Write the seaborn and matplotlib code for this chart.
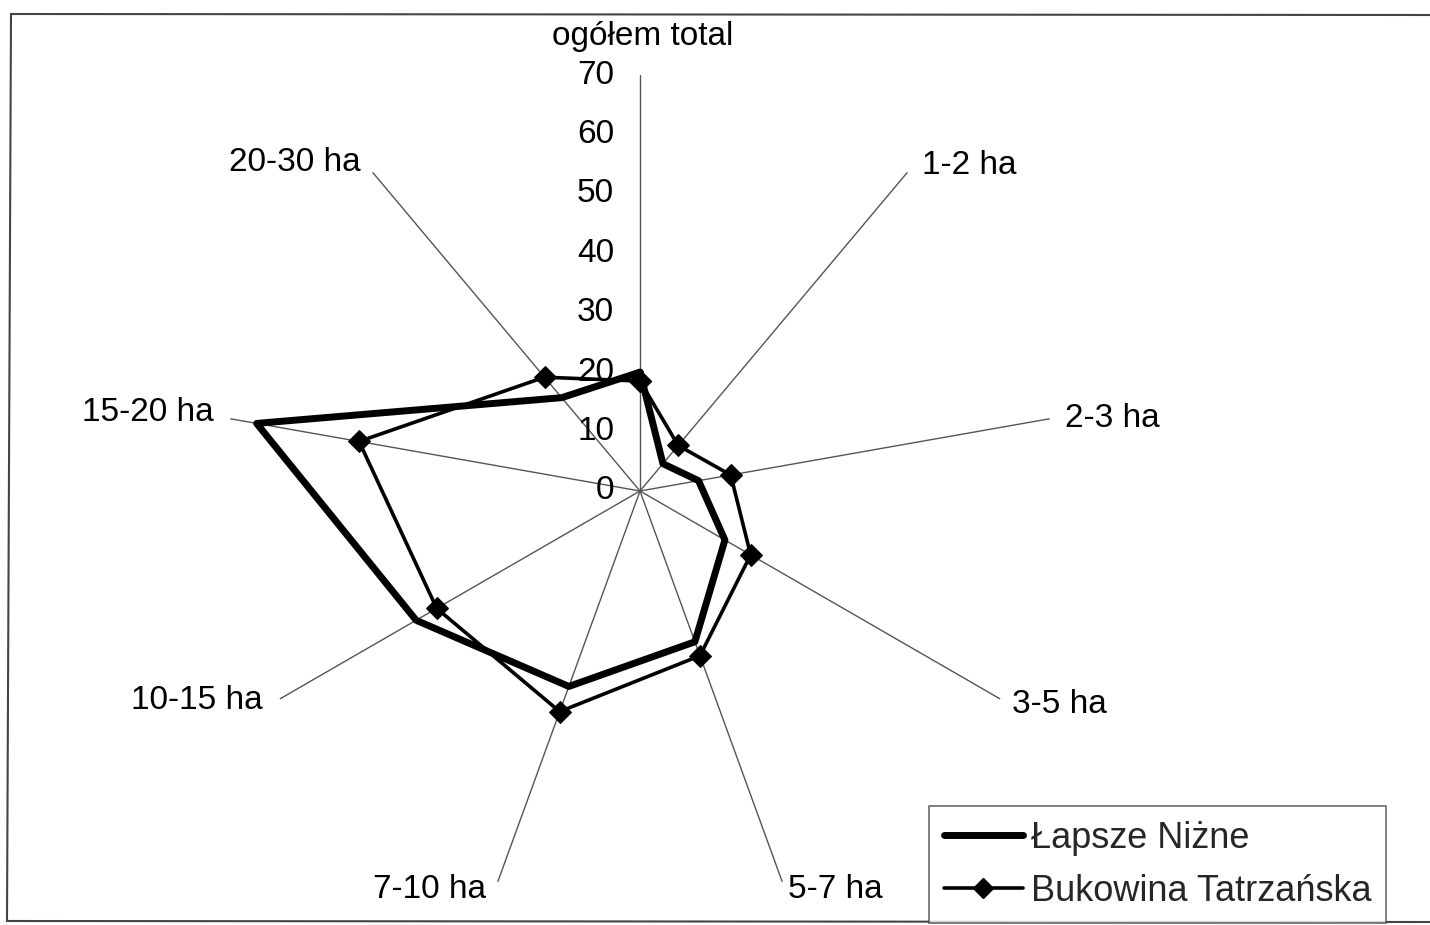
import numpy as np
import pandas as pd
import matplotlib
matplotlib.use("Agg")
import matplotlib.pyplot as plt
from matplotlib.lines import Line2D
import seaborn as sns

categories = ["ogółem total", "1-2 ha", "2-3 ha", "3-5 ha", "5-7 ha",
              "7-10 ha", "10-15 ha", "15-20 ha", "20-30 ha"]
lapsze = [20, 6, 10, 16.5, 27, 35, 43.5, 65.5, 20.5]
bukowina = [18.5, 10, 15.5, 21.5, 29.5, 39.5, 39.5, 48, 25]
series_names = ["Łapsze Niżne", "Bukowina Tatrzańska"]
r_ticks = [0, 10, 20, 30, 40, 50, 60, 70]

sns.set_theme(style="white")
plt.rcParams["font.family"] = ["Liberation Sans", "DejaVu Sans"]

W, H = 1430, 925
fig = plt.figure(figsize=(W / 100, H / 100), dpi=100)
fig.patch.set_facecolor("white")

cx, cy, R = 640, 491, 416
ax = fig.add_axes([(cx - R) / W, (H - cy - R) / H, 2 * R / W, 2 * R / H],
                  projection="polar")
ax.set_theta_zero_location("N")
ax.set_theta_direction(-1)

n = len(categories)
theta = np.arange(n) * 2 * np.pi / n
theta_c = np.append(theta, theta[0])

df = pd.DataFrame({
    "theta": np.concatenate([theta_c, theta_c]),
    "value": np.concatenate([lapsze + lapsze[:1], bukowina + bukowina[:1]]),
    "series": [series_names[0]] * (n + 1) + [series_names[1]] * (n + 1),
})

d1 = df[df.series == series_names[0]]
d2 = df[df.series == series_names[1]]
sns.lineplot(data=d1, x="theta", y="value", sort=False, estimator=None,
             color="black", lw=5, ax=ax, label=series_names[0], zorder=3)
sns.lineplot(data=d2, x="theta", y="value", sort=False, estimator=None,
             color="black", lw=2.6, marker="D", markersize=11,
             markeredgecolor="black", ax=ax, label=series_names[1], zorder=4)

ax.set_ylim(0, 70)
ax.set_xticks(theta)
ax.set_xticklabels([])
ax.set_yticks(r_ticks)
ax.set_yticklabels([])
ax.set_xlabel("")
ax.set_ylabel("")
ax.grid(False)
ax.spines["polar"].set_visible(False)
ax.set_facecolor("none")
ax.get_legend().remove()

# spokes
for t in theta:
    ax.plot([t, t], [0, 70], color="#555555", lw=1.0, zorder=1)

fs = 24
# radial tick labels along top spoke
for v in r_ticks:
    ax.annotate(str(v), xy=(0, v), xytext=(-26, 0), textcoords="offset pixels",
                ha="right", va="center", fontsize=fs, color="black", zorder=2)

# category labels
offsets = [(3, 39, "center"), (15, 7, "left"), (15, 0, "left"), (12, -6, "left"),
           (6, -8, "left"), (-12, -8, "right"), (-17, -1, "right"),
           (-17, 6, "right"), (-12, 10, "right")]
for t, lab, (ox, oy, ha) in zip(theta, categories, offsets):
    ax.annotate(lab, xy=(t, 70), xytext=(ox, oy), textcoords="offset pixels",
                ha=ha, va="center", fontsize=fs, color="black")

# legend
handles = [Line2D([], [], color="black", lw=5),
           Line2D([], [], color="black", lw=2.6, marker="D", markersize=10)]
leg = fig.legend(handles, series_names, loc="lower right",
                 bbox_to_anchor=(1386 / W, 2 / H), fontsize=26,
                 frameon=True, fancybox=False, edgecolor="#444444",
                 handlelength=2.2, handletextpad=0.22, labelspacing=0.5,
                 borderpad=0.4, borderaxespad=0.0)
leg.get_frame().set_linewidth(1.2)

# outer frame
def fx(x):
    return x / W
def fy(y):
    return 1 - y / H
fig.add_artist(Line2D([fx(11), fx(1430)], [fy(14), fy(15)], color="#444444", lw=1.5))
fig.add_artist(Line2D([fx(11), fx(7)], [fy(14), fy(921)], color="#444444", lw=1.5))
fig.add_artist(Line2D([fx(7), fx(1430)], [fy(921), fy(922)], color="#444444", lw=1.5))

fig.savefig("out.png", dpi=100, facecolor="white")
